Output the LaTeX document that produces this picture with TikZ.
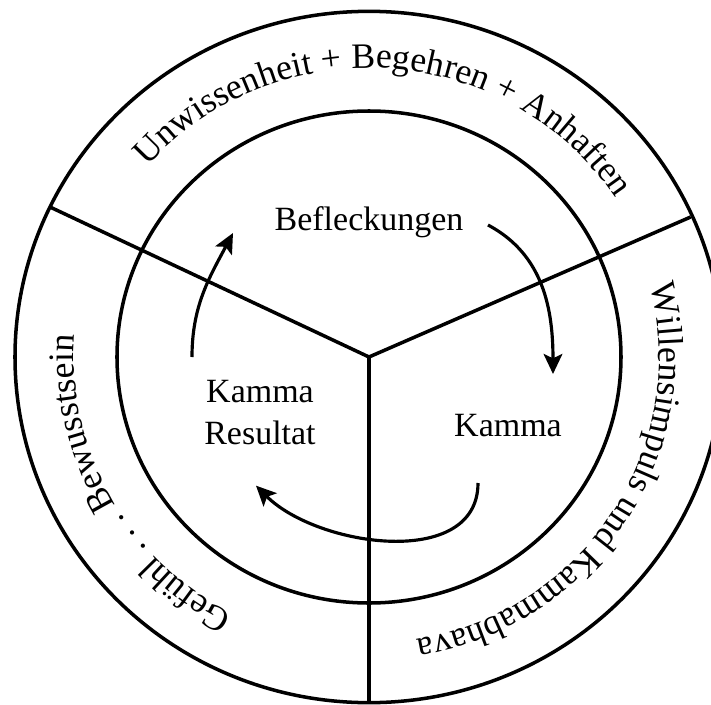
\documentclass[tikz,border=0pt]{standalone}
\usepackage{fontspec}
\setmainfont{Liberation Serif}
\usetikzlibrary{arrows.meta,decorations.text}
\newcommand\ringfont{\fontsize{29pt}{36pt}\selectfont}
\newcommand\arcfont{\fontsize{30.5pt}{36pt}\selectfont}
\tikzset{ring/.style={line width=3pt},lbl/.style={font=\ringfont,align=center,inner sep=0pt},flow/.style={-{Stealth[length=6mm,width=5.6mm,inset=1.3mm]},line width=2.7pt},bend/.style={decorate,decoration={text along path,text align=center,text={|\arcfont|#1}}}}

\begin{document}
\begin{tikzpicture}
\useasboundingbox (-11.07,-10.41) rectangle (10.26,10.71);
\coordinate (mid) at (0,0);
\draw[ring] (mid) ellipse [x radius=10.62,y radius=10.37];
\draw[ring] (mid) ellipse [x radius=7.56,y radius=7.38];
\foreach \n/\x/\y in {sl/-9.57/4.5,sr/9.65/4.2,sb/0/-10.41}{\coordinate (\n) at (\x,\y);}
\foreach \n in {sl,sr,sb}{\draw[ring] (mid)--(\n);}
% ring labels
\path[bend={Unwissenheit + Begehren + Anhaften}] (146:8.85 and 8.67) arc[start angle=146,end angle=26,x radius=8.85,y radius=8.67];
\path[bend={Willensimpuls und Kammabhava}] (17:8.7 and 8.6) arc[start angle=17,end angle=-83,x radius=8.7,y radius=8.6];
\path[bend={Gefühl . . . Bewusstsein}] (252:8.85 and 8.7) arc[start angle=252,end angle=166,x radius=8.85,y radius=8.7];
% inner labels
\node[lbl] (befl) at (0,4.05) {Befleckungen};
\node[lbl] (kam) at (4.17,-2.05) {Kamma};
\node[lbl] (res) at (-3.27,-1.67) {Kamma\\Resultat};
\foreach \n/\x/\y in {a1/3.57/3.96,a2/5.52/-0.51,b1/3.27/-3.78,b2/-3.39/-3.86,c1/-5.31/0,c2/-4.08/3.72}{\coordinate (\n) at (\x,\y);}
\draw[flow] (a1) to[out=-28,in=90] (a2);
\draw[flow] (b1) to[out=-90,in=-45] (b2);
\draw[flow] (c1) to[out=90,in=-118] (c2);
\end{tikzpicture}
\end{document}
